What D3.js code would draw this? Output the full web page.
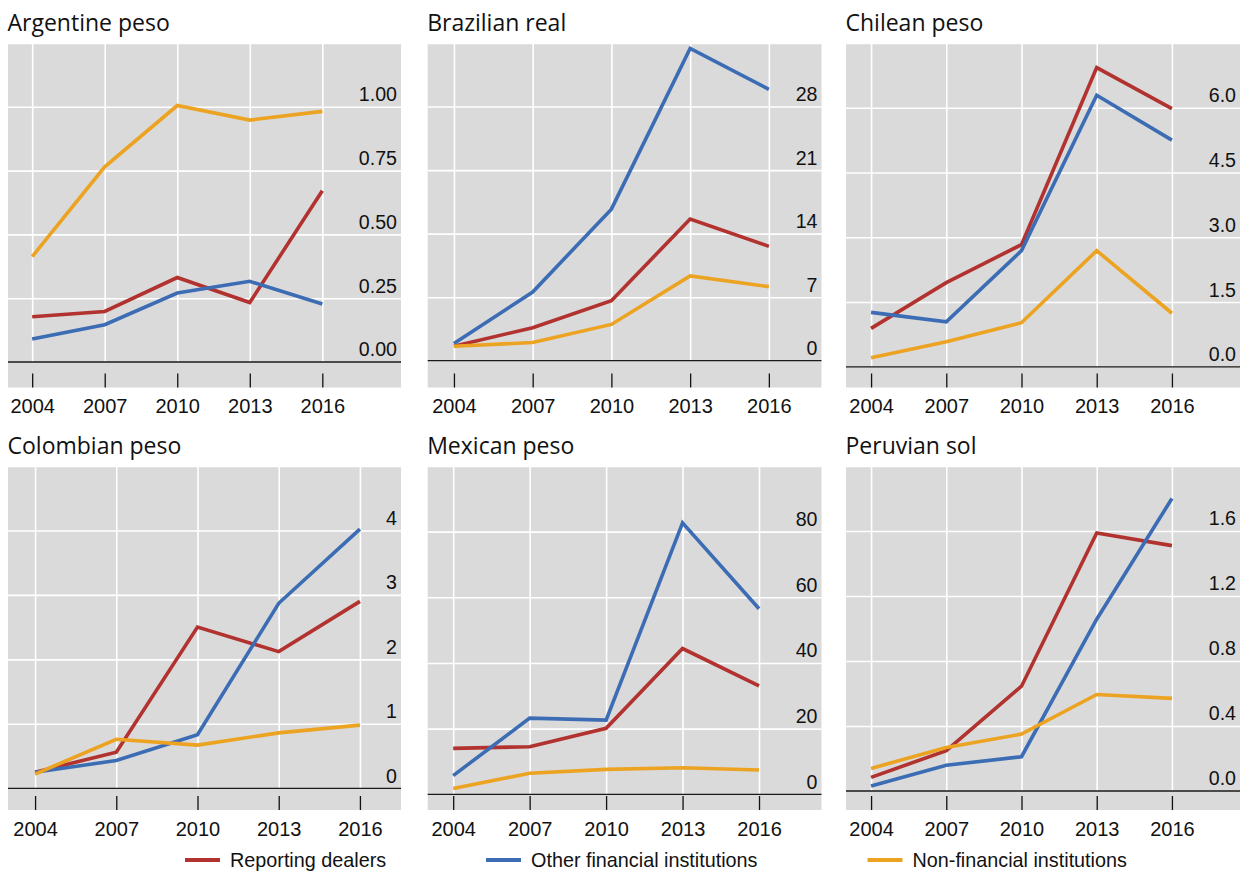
<!DOCTYPE html>
<html>
<head>
<meta charset="utf-8">
<script src="https://cdn.jsdelivr.net/npm/d3@7"></script>
<style>
  html, body { margin: 0; padding: 0; background: #ffffff; }
  svg { display: block; }
</style>
</head>
<body>
<svg id="chart" width="1240" height="871"></svg>
<script>
// Survey years shared by every panel
const years = [2004, 2007, 2010, 2013, 2016];

const currencies = ["Argentine peso", "Brazilian real", "Chilean peso",
                    "Colombian peso", "Mexican peso", "Peruvian sol"];

// Turnover by counterparty, one row per currency (years as above)
const reportingDealers = [
  [0.177, 0.198, 0.331, 0.233, 0.671],
  [1.6, 3.64, 6.62, 15.6, 12.6],
  [0.89, 1.95, 2.83, 6.93, 5.98],
  [0.25, 0.56, 2.50, 2.12, 2.90],
  [14.0, 14.5, 20.1, 44.4, 33.0],
  [0.084, 0.248, 0.645, 1.588, 1.510]
];
const otherFinancial = [
  [0.090, 0.146, 0.270, 0.316, 0.227],
  [1.9, 7.57, 16.7, 34.4, 29.9],
  [1.26, 1.04, 2.69, 6.29, 5.25],
  [0.25, 0.43, 0.83, 2.87, 4.02],
  [5.7, 23.2, 22.6, 82.7, 56.5],
  [0.031, 0.158, 0.211, 1.057, 1.80]
];
const nonFinancial = [
  [0.413, 0.765, 1.005, 0.948, 0.982],
  [1.6, 2.0, 4.0, 9.34, 8.16],
  [0.21, 0.58, 1.02, 2.69, 1.24],
  [0.22, 0.76, 0.67, 0.86, 0.98],
  [1.8, 6.4, 7.6, 8.1, 7.4],
  [0.139, 0.268, 0.350, 0.594, 0.570]
];

// Value-axis ticks per currency
const tickStep = [0.25, 7, 1.5, 1, 20, 0.4];
const tickDecimals = [2, 0, 1, 0, 0, 1];
const tickCount = 5;           // labelled ticks: 0 .. 4 steps
const axisMin = [-0.1, -2.95, -0.48, -0.337, -4.78, -0.117];

const seriesNames = ["Reporting dealers", "Other financial institutions", "Non-financial institutions"];
const seriesData = [reportingDealers, otherFinancial, nonFinancial];

// ---- styling & layout ----
const seriesColors = ["#b1322f", "#3c6db4", "#eca322"];
const numFont = "'Liberation Sans', Arial, sans-serif";
const titleFont = "'Open Sans', 'Noto Sans', sans-serif";

const columns = [
  { left: 8, right: 401 },
  { left: 427.7, right: 821.5 },
  { left: 846, right: 1240 }
];
const rows = [
  { top: 43, bottom: 387.5 },
  { top: 466, bottom: 810 }
];
// room kept free on the right of each panel for the value labels
const labelGutter = [54.5, 26.4, 43, 14, 37, 43];

const svg = d3.select("#chart");
svg.append("rect").attr("width", 1240).attr("height", 871).attr("fill", "#ffffff");

currencies.forEach((name, i) => {
  const col = columns[i % 3];
  const row = rows[Math.floor(i / 3)];
  const step = tickStep[i];
  const ticks = d3.range(tickCount).map(k => +(k * step).toFixed(6));
  const gridTicks = d3.range(1, tickCount + 1).map(k => +(k * step).toFixed(6));

  const x = d3.scaleLinear()
    .domain([2003, 2017])
    .range([col.left, col.right - labelGutter[i]]);
  const y = d3.scaleLinear()
    .domain([axisMin[i], step * tickCount])
    .range([row.bottom, row.top]);

  const g = svg.append("g");

  // panel title
  g.append("text")
    .attr("x", col.left - 0.5)
    .attr("y", row.top - 12.5)
    .attr("font-family", titleFont)
    .attr("font-size", 23)
    .attr("fill", "#111")
    .text(name);

  // plot background
  g.append("rect")
    .attr("x", col.left).attr("y", row.top)
    .attr("width", col.right - col.left)
    .attr("height", row.bottom - row.top)
    .attr("fill", "#dadada");

  // horizontal gridlines across the full panel width
  g.append("g")
    .attr("transform", `translate(${col.left},0)`)
    .call(d3.axisRight(y).tickValues(gridTicks).tickSize(col.right - col.left).tickFormat(""))
    .call(a => a.select(".domain").remove())
    .call(a => a.selectAll("line").attr("stroke", "#ffffff").attr("stroke-width", 1.6));

  // vertical gridlines from the top down to the zero line
  g.append("g")
    .attr("transform", `translate(0,${y(0)})`)
    .call(d3.axisTop(x).tickValues(years).tickSize(y(0) - row.top).tickFormat(""))
    .call(a => a.select(".domain").remove())
    .call(a => a.selectAll("line").attr("stroke", "#ffffff").attr("stroke-width", 1.6));

  // zero line
  g.append("line")
    .attr("x1", col.left).attr("x2", col.right)
    .attr("y1", y(0)).attr("y2", y(0))
    .attr("stroke", "#1a1a1a").attr("stroke-width", 1.3);

  // value labels, right aligned, sitting just above their gridline
  const fmt = d3.format(`.${tickDecimals[i]}f`);
  g.append("g")
    .attr("transform", `translate(${col.right - 4},0)`)
    .call(d3.axisLeft(y).tickValues(ticks).tickSize(0).tickPadding(0).tickFormat(fmt))
    .call(a => a.select(".domain").remove())
    .call(a => a.selectAll("text")
      .attr("dy", -6)
      .attr("font-family", numFont)
      .attr("font-size", 19.6)
      .attr("fill", "#111"));

  // year ticks and labels below the zero line
  g.append("g")
    .attr("transform", `translate(0,${row.bottom - 14})`)
    .call(d3.axisBottom(x).tickValues(years).tickSize(14).tickPadding(11.5).tickFormat(d3.format("d")))
    .call(a => a.select(".domain").remove())
    .call(a => a.selectAll("line").attr("stroke", "#111").attr("stroke-width", 1.3))
    .call(a => a.selectAll("text")
      .attr("font-family", numFont)
      .attr("font-size", 20)
      .attr("fill", "#111"));

  // series lines
  const line = d3.line()
    .x((d, k) => x(years[k]))
    .y(d => y(d));
  seriesData.forEach((s, si) => {
    g.append("path")
      .datum(s[i])
      .attr("d", line)
      .attr("fill", "none")
      .attr("stroke", seriesColors[si])
      .attr("stroke-width", 3.6)
      .attr("stroke-linejoin", "miter");
  });
});

// legend along the bottom
const legendPos = [185, 486, 867.5];
const legend = svg.append("g");
seriesNames.forEach((n, si) => {
  const item = legend.append("g").attr("transform", `translate(${legendPos[si]},860)`);
  item.append("line")
    .attr("x1", 0).attr("x2", 35)
    .attr("stroke", seriesColors[si]).attr("stroke-width", 4);
  item.append("text")
    .attr("x", 45).attr("y", 6.8)
    .attr("font-family", numFont)
    .attr("font-size", 19.8)
    .attr("fill", "#111")
    .text(n);
});
</script>
</body>
</html>
